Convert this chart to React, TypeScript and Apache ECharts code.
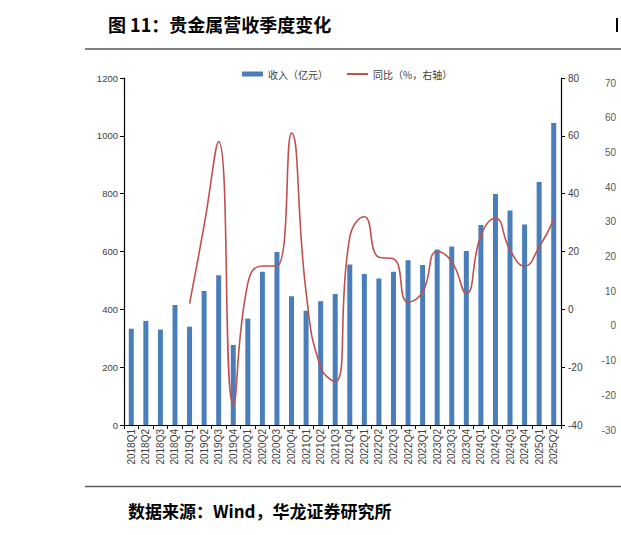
import React, { useEffect, useRef } from "react";
import * as echarts from "echarts";

const categories = [
  "2018Q1", "2018Q2", "2018Q3", "2018Q4",
  "2019Q1", "2019Q2", "2019Q3", "2019Q4",
  "2020Q1", "2020Q2", "2020Q3", "2020Q4",
  "2021Q1", "2021Q2", "2021Q3", "2021Q4",
  "2022Q1", "2022Q2", "2022Q3", "2022Q4",
  "2023Q1", "2023Q2", "2023Q3", "2023Q4",
  "2024Q1", "2024Q2", "2024Q3", "2024Q4",
  "2025Q1", "2025Q2",
];

const revenue = [
  333, 360, 330, 415,
  340, 463, 518, 277,
  368, 530, 598, 445,
  395, 428, 453, 555,
  522, 507, 530, 570,
  553, 607, 617, 602,
  692, 799, 742, 693,
  840, 1044,
];

const yoy = [
  null, null, null, null,
  2, 29, 58, -33,
  9, 15, 15, 61,
  6, -20, -25, 25,
  32, 18, 17.5, 2.5,
  6, 20, 16.5, 5.5,
  25.5, 31.5, 20.5, 15,
  21.5, 31,
];

const seriesNames = ["收入（亿元）", "同比（%，右轴）"];
const titleText = "图 11：贵金属营收季度变化";
const sourceText = "数据来源：Wind，华龙证券研究所";

const leftAxis = { min: 0, max: 1200, interval: 200 };
const rightAxis = { min: -40, max: 80, interval: 20 };
const neighbourAxis = { min: -30, max: 70, interval: 10 };

export default function App() {
  const ref = useRef<HTMLDivElement>(null);

  useEffect(() => {
    if (!ref.current) return;
    const chart = echarts.init(ref.current, null, { renderer: "svg" });
    const latin = "Liberation Sans, Arial, sans-serif";
    const cjk = "Noto Sans CJK SC, sans-serif";
    const legendText = { fontSize: 10, color: "#404040", fontFamily: cjk };
    const plain = (v: number) => String(v);
    chart.setOption({
      animation: false,
      backgroundColor: "#ffffff",
      legend: [
        {
          left: 237,
          top: 64,
          itemWidth: 21,
          itemHeight: 5,
          icon: "rect",
          textStyle: legendText,
          data: [{ name: seriesNames[0] }],
        },
        {
          left: 342,
          top: 64,
          itemWidth: 21,
          itemHeight: 2,
          icon: "rect",
          textStyle: legendText,
          data: [{ name: seriesNames[1] }],
        },
      ],
      grid: [
        { left: 124, right: 60, top: 78, bottom: 110, containLabel: false },
        { left: 618, width: 1, top: 83, height: 347, containLabel: false },
      ],
      xAxis: [
        {
          type: "category",
          data: categories,
          boundaryGap: true,
          axisLine: { lineStyle: { color: "#000", width: 1.2 } },
          axisTick: { show: true, length: 4, interval: 0, lineStyle: { color: "#000" } },
          axisLabel: {
            interval: 0,
            rotate: 90,
            fontSize: 10,
            color: "#404040",
            fontFamily: latin,
            margin: 4,
          },
          splitLine: { show: false },
        },
        { type: "value", gridIndex: 1, show: false },
      ],
      yAxis: [
        {
          type: "value",
          position: "left",
          min: leftAxis.min,
          max: leftAxis.max,
          interval: leftAxis.interval,
          axisLine: { show: true, lineStyle: { color: "#000", width: 1.2 } },
          axisTick: { show: true, length: 4, lineStyle: { color: "#000" } },
          axisLabel: { fontSize: 9.5, color: "#404040", fontFamily: latin, margin: 6, formatter: plain },
          splitLine: { show: false },
        },
        {
          type: "value",
          position: "right",
          min: rightAxis.min,
          max: rightAxis.max,
          interval: rightAxis.interval,
          axisLine: { show: true, lineStyle: { color: "#000", width: 1.2 } },
          axisTick: { show: true, length: 4, lineStyle: { color: "#000" } },
          axisLabel: { fontSize: 10, color: "#404040", fontFamily: latin, margin: 7, formatter: plain },
          splitLine: { show: false },
        },
        {
          type: "value",
          gridIndex: 1,
          position: "left",
          min: neighbourAxis.min,
          max: neighbourAxis.max,
          interval: neighbourAxis.interval,
          axisLine: { show: false },
          axisTick: { show: false },
          axisLabel: { fontSize: 10, color: "#595959", fontFamily: latin, margin: 2, formatter: plain },
          splitLine: { show: false },
        },
      ],
      series: [
        {
          name: seriesNames[0],
          type: "bar",
          xAxisIndex: 0,
          yAxisIndex: 0,
          data: revenue,
          barWidth: 5,
          itemStyle: { color: "#4A7EBB" },
        },
        {
          name: seriesNames[1],
          type: "line",
          xAxisIndex: 0,
          yAxisIndex: 1,
          data: yoy,
          smooth: 0.5,
          symbol: "none",
          connectNulls: false,
          lineStyle: { color: "#C0504D", width: 1.6 },
          itemStyle: { color: "#C0504D" },
        },
      ],
      graphic: [
        {
          type: "text",
          left: 108,
          top: 15,
          style: {
            text: titleText,
            fontSize: 18,
            fontWeight: "bold",
            fill: "#000",
            fontFamily: cjk,
          },
        },
        {
          type: "rect",
          shape: { x: 616, y: 18, width: 2, height: 14 },
          style: { fill: "#000" },
        },
        {
          type: "line",
          shape: { x1: 85, y1: 49, x2: 621, y2: 49 },
          style: { stroke: "#808080", lineWidth: 2 },
        },
        {
          type: "line",
          shape: { x1: 85, y1: 486.5, x2: 621, y2: 486.5 },
          style: { stroke: "#595959", lineWidth: 1.3 },
        },
        {
          type: "text",
          left: 128,
          top: 502,
          style: {
            text: sourceText,
            fontSize: 17,
            fontWeight: "bold",
            fill: "#000",
            fontFamily: cjk,
          },
        },
      ],
    });
    return () => chart.dispose();
  }, []);

  return (
    <div
      ref={ref}
      style={{ position: "fixed", left: 0, top: 0, width: 621, height: 535, background: "#fff" }}
    />
  );
}
